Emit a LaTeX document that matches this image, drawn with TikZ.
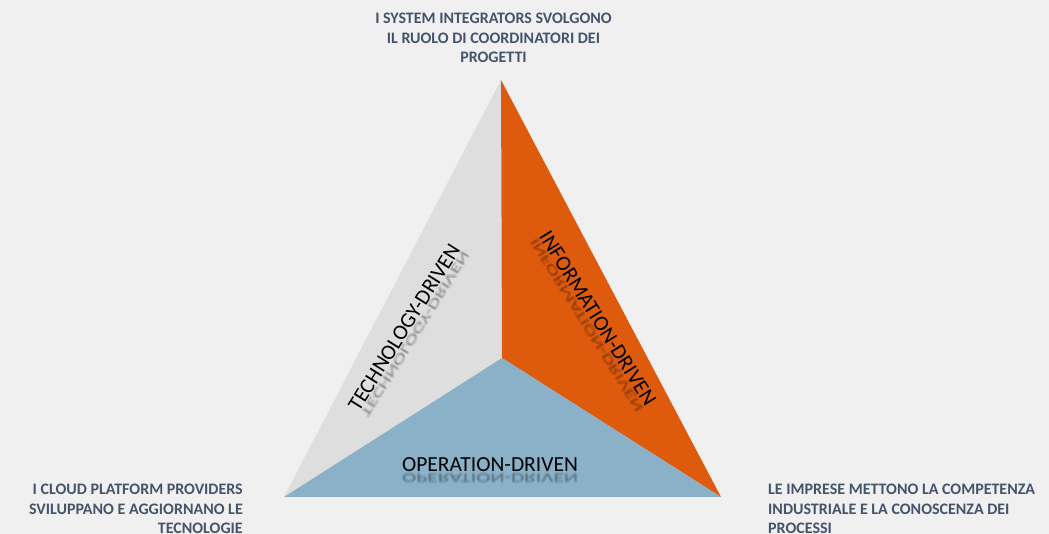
\documentclass[tikz,border=0pt]{standalone}
\usepackage{fontspec}
\setmainfont{Carlito}
\definecolor{pagebg}{HTML}{F0F0F0}
\definecolor{techgray}{HTML}{DEDEDE}
\definecolor{infoorange}{HTML}{DE5B0E}
\definecolor{opblue}{HTML}{8AB1C7}
\definecolor{slate}{HTML}{44546A}
\tikzset{
  corner/.style={inner sep=0pt, text=slate, font=\bfseries\fontsize{16}{19.5}\selectfont},
  sector/.style={inner sep=0pt, text=black, font=\fontsize{21.5}{24}\selectfont, transform shape},
  mirror/.style={sector, yscale=-0.6, text=black, opacity=0.07}
}
% label set on a rotated baseline, with a soft faded mirror image beneath it
\newcommand{\drivenlabel}[4]{%
  \begin{scope}[shift={#2}, rotate=#3]
    \node[sector, anchor=base] (#1) at (0,0) {#4};
    \foreach \dx/\dy in {0/-1,1/-1.5,-1/-1.5,0.5/-2.5,-0.5/-2.5,0/-3.5}
      \node[mirror, anchor=base] at (\dx,\dy) {#4};
  \end{scope}}
\begin{document}
\begin{tikzpicture}[x=1pt,y=1pt]
  \fill[pagebg] (0,0) rectangle (1049,534);
  \useasboundingbox (0,0) rectangle (1049,534);
  % triangle corners and inner meeting point
  \coordinate (T) at (501,454);
  \coordinate (L) at (284,37);
  \coordinate (R) at (721,37);
  \coordinate (C) at (502,176);
  \fill[techgray] (T) -- (C) -- (L) -- cycle;
  \fill[infoorange] (T) -- (R) -- (C) -- cycle;
  \fill[opblue] (L) -- (C) -- (R) -- cycle;
  % sector labels
  \drivenlabel{tech}{(410,203)}{58}{TECHNOLOGY-DRIVEN}
  \drivenlabel{info}{(592,212)}{-58}{INFORMATION-DRIVEN}
  \drivenlabel{oper}{(490,62)}{0}{OPERATION-DRIVEN}
  % corner notes
  \node[corner, align=center, anchor=center] (integrators) at (493.5,496)
    {I SYSTEM INTEGRATORS SVOLGONO\\IL RUOLO DI COORDINATORI DEI\\PROGETTI};
  \node[corner, align=right, anchor=east] (cloud) at (243,25)
    {I CLOUD PLATFORM PROVIDERS\\SVILUPPANO E AGGIORNANO LE\\TECNOLOGIE};
  \node[corner, align=left, anchor=west] (imprese) at (768,25)
    {LE IMPRESE METTONO LA COMPETENZA\\INDUSTRIALE E LA CONOSCENZA DEI\\PROCESSI};
\end{tikzpicture}
\end{document}
